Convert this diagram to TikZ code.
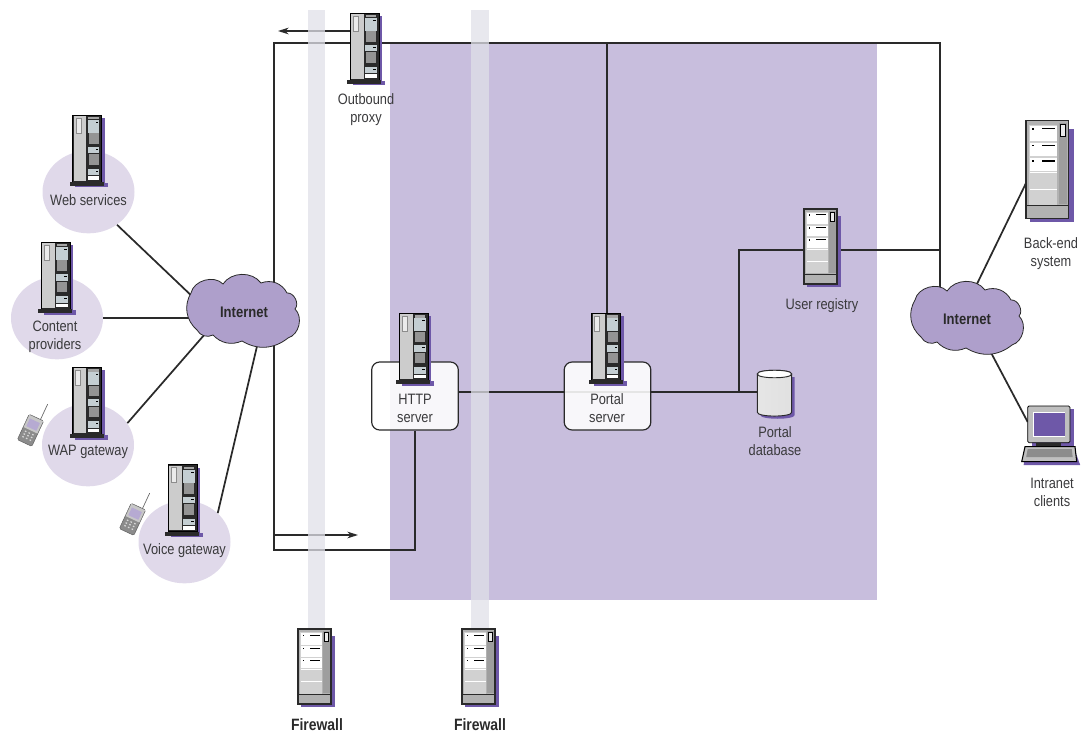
\documentclass[tikz,border=0pt]{standalone}
\usepackage{fontspec}
\setmainfont[FakeStretch=0.85]{Liberation Sans}
\usetikzlibrary{arrows.meta, positioning, shapes.geometric}

\definecolor{zonepurple}{HTML}{C8BEDD}
\definecolor{sitepurple}{HTML}{E0D9EA}
\definecolor{cloudpurple}{HTML}{AE9FCB}
\definecolor{shadepurple}{HTML}{6E58A8}
\definecolor{bandgrey}{HTML}{E0E0E8}
\definecolor{linedark}{HTML}{2A2A2A}
\definecolor{textdark}{HTML}{3A3A3C}
\definecolor{slotgrey}{HTML}{C4CED2}

\pgfdeclarelayer{zonelayer}
\pgfdeclarelayer{wirelayer}
\pgfsetlayers{zonelayer,wirelayer,main}

\tikzset{
  pics/tower/.style={code={
    \fill[shadepurple] (3,3) rectangle (32,72.5);
    \fill[shadepurple] (2.5,68) rectangle (35,72.5);
    \draw[fill=linedark, line width=.5pt] (0,0) rectangle (29,67);
    \fill[black!20] (1.2,1.2) rectangle (13.5,65.8);
    \draw[black!45, fill=black!8, line width=.3pt] (3,3) rectangle (8,18);
    \foreach \ty/\th in {5/13, 32/6.5, 54/6.5} {
      \fill[slotgrey] (15,\ty) rectangle (26.5,\ty+\th);
      \fill[black] (23,\ty+2) rectangle (25.5,\ty+3.2);
    }
    \foreach \ty in {18.5, 39.5} \fill[black!42] (16,\ty) rectangle (26,\ty+10.5);
    \fill[black!35] (15.5,2) rectangle (26,4.5);
    \fill[white] (15,61.5) rectangle (26.5,65);
    \fill[linedark] (-2.7,67.2) rectangle (31.3,71);
    \coordinate (-n) at (15,0);
    \coordinate (-w) at (0,18);
  }},
  pics/rack/.style={code={
    \fill[shadepurple] (3.3,6.7) rectangle (36.7,78.3);
    \draw[draw=linedark, fill=black!30, line width=.8pt] (0,0) rectangle (33,75);
    \fill[black!38] (25,2) rectangle (31.7,64);
    \draw[fill=black!8, line width=.3pt] (26.2,3) rectangle (30,12);
    \fill[black!18] (2.2,3) rectangle (24.2,64.5);
    \foreach \ty/\th in {4/11.5, 17/10.5, 29/10} {
      \fill[white] (2.7,\ty) rectangle (24,\ty+\th);
      \fill[black] (12,\ty+1.5) rectangle (22,\ty+2.5);
      \fill[black] (4.5,\ty+1.5) rectangle (6,\ty+2.8);
    }
    \draw[white, line width=.4pt] (2.7,39.8) -- (24,39.8) (2.7,52.4) -- (24,52.4);
    \draw[linedark, line width=.4pt] (.5,65) -- (32.5,65);
    \coordinate (-w) at (0,41);
    \coordinate (-e) at (33,41);
    \coordinate (-b) at (0,48);
  }},
  pics/phone/.style={code={
    \draw[black!60, line width=.5pt] (4.5,-13) -- (4.5,-31);
    \draw[black!60, fill=black!45, rounded corners=1pt, line width=.4pt] (-8,-14) rectangle (8,14);
    \fill[black!22] (-7.5,-13.5) rectangle (7.5,0);
    \fill[zonepurple!80!shadepurple] (-5.5,-10.5) rectangle (5.5,-2);
    \foreach \px in {-4,0,4} \foreach \py in {3,6,9} \fill[black!15] (\px-.8,\py-.6) rectangle (\px+.8,\py+.6);
  }},
  pics/client/.style={code={
    \fill[shadepurple] (4,3) rectangle (46,40);
    \draw[fill=black!25, rounded corners=1pt, line width=.6pt] (0,0) rectangle (42.3,36.7);
    \fill[white] (5,5.5) rectangle (37.5,30.5);
    \fill[shadepurple] (6,6.5) rectangle (37,29.5);
    \fill[linedark] (8,36.7) rectangle (33,40.5);
    \fill[shadepurple] (-3,44) -- (47,44) -- (52.5,59) -- (-4,59) -- cycle;
    \draw[fill=black!25, line width=.8pt] (-2.7,40.7) -- (47.3,40.7) -- (49,55.7) -- (-6,55.7) -- cycle;
    \fill[black!45] (0,43) -- (44,43) -- (45,51) -- (-1.5,51) -- cycle;
    \coordinate (-w) at (0,16);
  }},
  pics/dbcan/.style={code={
    \fill[shadepurple] (3,8) rectangle (37.4,46)
      (3,46) .. controls (3,51) and (37.4,51) .. (37.4,46) -- cycle;
    \draw[draw=linedark, line width=.7pt, left color=black!10, middle color=white, right color=black!12]
      (0,5) -- (0,43.3) .. controls (0,48.3) and (34.4,48.3) .. (34.4,43.3) -- (34.4,5)
      .. controls (34.4,0) and (0,0) .. (0,5) -- cycle;
    \draw[draw=linedark, line width=.7pt, fill=white] (0,5) .. controls (0,0) and (34.4,0) .. (34.4,5)
      .. controls (34.4,10) and (0,10) .. (0,5) -- cycle;
    \coordinate (-w) at (0,23);
  }},
  pics/netcloud/.style={code={
    \draw[draw=linedark, fill=cloudpurple, line width=.6pt]
      (-54,-17) to[bend left=62] (-22,-26) to[bend left=55] (16,-27)
      to[bend left=42] (42,-17) to[bend left=70] (50,-1) to[bend left=60] (43,28)
      to[bend left=35] (-3,31) to[bend left=35] (-32,25) to[bend left=45] (-48,20)
      to[bend left=40] (-54,-17) -- cycle;
    \coordinate (-nw) at (-49,-10);
    \coordinate (-w) at (-50,8);
    \coordinate (-sw) at (-40,24);
    \coordinate (-s) at (13,32);
    \coordinate (-n) at (-29,-15);
    \coordinate (-ne) at (6,-29);
    \coordinate (-se) at (19,30);
  }},
}

\begin{document}
\begin{tikzpicture}[x=0.75pt, y=-0.75pt,
  lbl/.style={font=\fontsize{11.3}{13.5}\selectfont, align=center, text=textdark, inner sep=0pt},
  hlbl/.style={font=\fontsize{11.5}{13.5}\selectfont\bfseries, text=linedark, inner sep=0pt},
  site/.style={ellipse, fill=sitepurple, minimum width=69pt, minimum height=62pt, inner sep=0pt},
  srvbox/.style={draw=linedark, line width=.9pt, rounded corners=6pt, fill=white, fill opacity=.88,
                 draw opacity=1, minimum width=65pt, minimum height=51pt},
  wire/.style={draw=linedark, line width=1.5pt},
  slant/.style={draw=linedark, line width=1.3pt},
  arr/.style={-{Stealth[length=8pt,width=5pt]}, draw=linedark, line width=.9pt},
  band/.style={fill=bandgrey, fill opacity=.75, draw=none, minimum width=13pt, minimum height=464pt,
               inner sep=0pt}
]
\useasboundingbox (0,0) rectangle (1088,734);

% Portal zone and sites
\begin{pgfonlayer}{zonelayer}
\node[fill=zonepurple, inner sep=0pt, minimum width=365pt, minimum height=418pt] (zone) at (633.25,321.5) {};
\node[site] (web)     at (88.5,192) {};
\node[site] (content) at (57,318) {};
\node[site] (wap)     at (88,445) {};
\node[site] (voice)   at (184.5,542) {};
\end{pgfonlayer}

% Free line ends
\coordinate (tl) at (274,43);
\coordinate (tr) at (940,43);
\coordinate (bl) at (274,550);
\coordinate (jn) at (739,392);
\coordinate (portaltop) at (606.5,43);
\coordinate (outstart) at (350,31);
\coordinate (outend) at (278,31);
\coordinate (instart) at (275,535);
\coordinate (inend) at (358,535);

% Clouds
\pic (cloudl) at (245,310) {netcloud};
\pic (cloudr) at (969,317) {netcloud};

% Portal servers
\node[srvbox] (httpbox) at (415,396) {};
\node[srvbox] (portalbox) at (607.5,396) {};
\pic (http) at (399,313) {tower};
\pic (portal) at (591.5,313) {tower};
\pic (db) at (757.3,369) {dbcan};
\pic (registry) at (804,209) {rack};
\pic (proxy) at (350,13) {tower};

% Back-end side
\pic[scale=1.3] (backend) at (1026,120.7) {rack};
\pic (client) at (1027.7,406) {client};

% Firewall bands
\node[band] (fwband1) at (316.8,319.5) {};
\node[band] (fwband2) at (480,319.5) {};
\pic (fw1) at (298,629) {rack};
\pic (fw2) at (462,629) {rack};

% Site servers
\pic (websrv)     at (72.7,115) {tower};
\pic (contentsrv) at (41,242) {tower};
\pic (wapsrv)     at (72.5,367) {tower};
\pic (voicesrv)   at (168,464.5) {tower};
\pic[rotate=-25] (wapphone)   at (30.5,430.3) {phone};
\pic[rotate=-25] (voicephone) at (132.5,519.3) {phone};

% Wires
\begin{pgfonlayer}{wirelayer}
\draw[slant] (web.-49) -- (cloudl-nw);
\draw[wire] (content.east) -- (cloudl-w);
\draw[slant] (wap.29) -- (cloudl-sw);
\draw[slant] (voice.41) -- (cloudl-s);
\draw[wire] (httpbox.south) -- (httpbox.south |- bl) -- (bl) -- (tl) -- (tr) -- (cloudr-n);
\draw[wire] (portaltop) -- (portal-n);
\draw[wire] (httpbox.east |- jn) -- (db-w |- jn);
\draw[wire] (registry-w) -- (registry-w -| jn) -- (jn);
\draw[wire] (registry-e) -- (registry-e -| tr);
\draw[slant] (backend-b) -- (cloudr-ne);
\draw[slant] (cloudr-se) -- (client-w);
\draw[arr] (outstart) -- (outend);
\draw[arr] (instart) -- (inend);
\end{pgfonlayer}

% Labels
\node[lbl] (weblbl)     at (88.5,200) {Web services};
\node[lbl] (contentlbl) at (55,337) {Content\\providers};
\node[lbl] (waplbl)     at (88,452) {WAP gateway};
\node[lbl] (voicelbl)   at (184.5,551) {Voice gateway};
\node[lbl] (proxylbl)   at (366,109.5) {Outbound\\proxy};
\node[lbl] (httplbl)    at (415,408) {HTTP\\server};
\node[lbl] (portallbl)  at (607,408) {Portal\\server};
\node[lbl] (registrylbl) at (822,306) {User registry};
\node[lbl] (dblbl)      at (775,441) {Portal\\database};
\node[lbl] (backendlbl) at (1051,253.5) {Back-end\\system};
\node[lbl] (clientlbl)  at (1052,492) {Intranet\\clients};
\node[hlbl] (inetl) at (244,312) {Internet};
\node[hlbl] (inetr) at (967,319) {Internet};
\node[hlbl, font=\fontsize{12.3}{13.5}\selectfont\bfseries] (fw1lbl) at (317,725) {Firewall};
\node[hlbl, font=\fontsize{12.3}{13.5}\selectfont\bfseries] (fw2lbl) at (480,725) {Firewall};

\end{tikzpicture}
\end{document}
